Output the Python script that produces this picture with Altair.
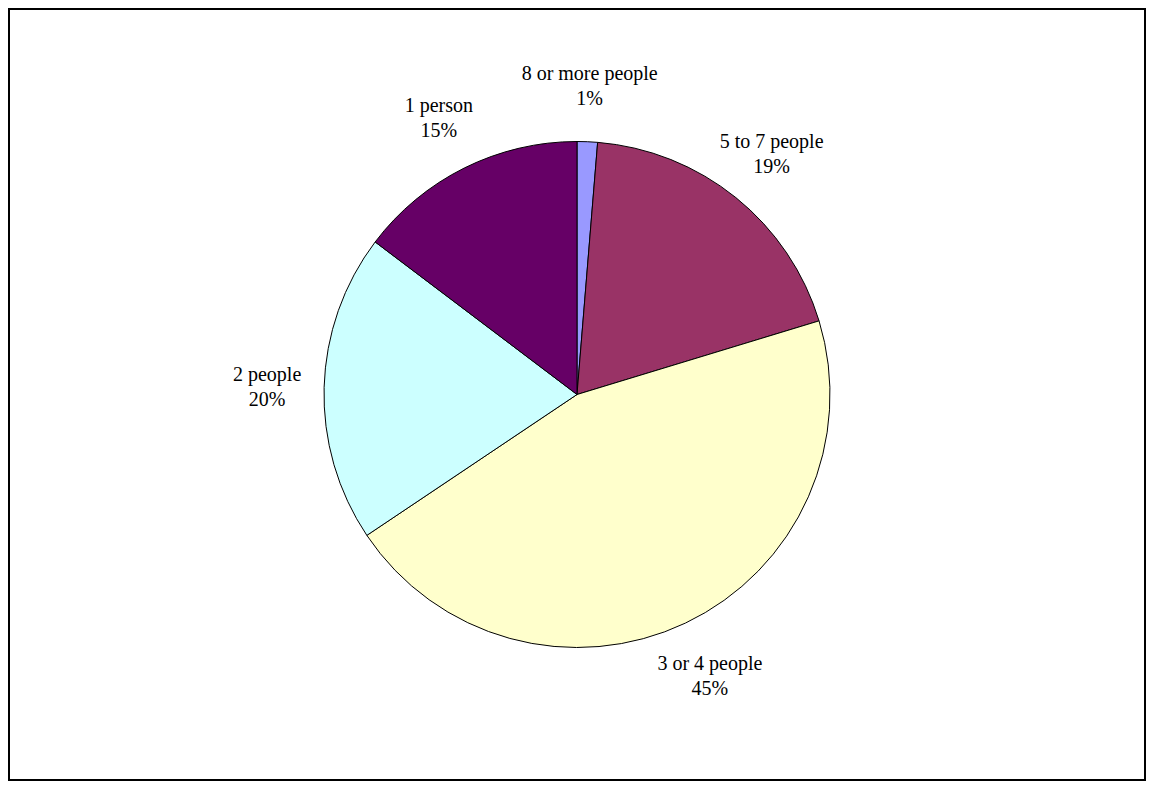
import altair as alt
import pandas as pd

categories = ["8 or more people", "5 to 7 people", "3 or 4 people", "2 people", "1 person"]
values = [1.3, 19.0, 45.3, 19.7, 14.7]
pct_labels = ["1%", "19%", "45%", "20%", "15%"]
colors = ["#9999FF", "#993366", "#FFFFCC", "#CCFFFF", "#660066"]

W, H = 1138, 773

df = pd.DataFrame({
    "category": categories,
    "value": values,
    "label": [f"{c}\n{p}" for c, p in zip(categories, pct_labels)],
})

base = alt.Chart(df).transform_window(
    idx="row_number()"
).encode(
    theta=alt.Theta("value:Q", stack=True),
    order=alt.Order("idx:Q"),
)

pie = base.mark_arc(outerRadius=253, stroke="black", strokeWidth=1).encode(
    color=alt.Color("category:N", scale=alt.Scale(domain=categories, range=colors), legend=None),
)

text = base.mark_text(
    radius=310, font="Liberation Serif", fontSize=20, lineBreak="\n",
    color="black", align="center", baseline="middle", lineHeight=25, dy=-11,
).encode(text="label:N")

frame = alt.Chart(pd.DataFrame({"f": [0]})).mark_rect(
    fill=None, stroke="black", strokeWidth=2
).encode(
    x=alt.value(1), x2=alt.value(W - 1), y=alt.value(1), y2=alt.value(H - 1)
)

chart = (pie + text + frame).properties(
    width=W, height=H,
    autosize=alt.AutoSizeParams(type="fit", contains="padding"),
    padding=0,
).configure_view(stroke=None)

chart.save("out.html", embed_options={"renderer": "svg", "actions": False})
